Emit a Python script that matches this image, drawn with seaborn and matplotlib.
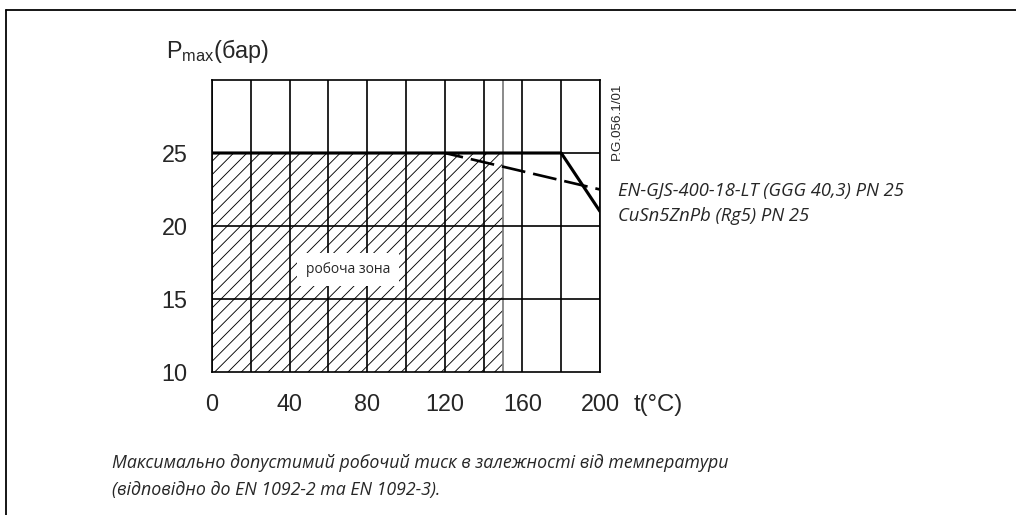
import matplotlib
matplotlib.use("Agg")
import matplotlib.pyplot as plt
import seaborn as sns
import pandas as pd
from matplotlib.lines import Line2D

# ---- data ----
temps_solid = [0, 180, 200]
press_solid = [25, 25, 21]
temps_dash = [120, 200]
press_dash = [25, 22.5]
zone_t = [0, 150]
zone_p_low = 10
zone_p_high = 25
x_ticks = [0, 40, 80, 120, 160, 200]
x_grid = list(range(0, 201, 20))
y_ticks = [10, 15, 20, 25]
y_grid = [15, 20, 25]
label_solid = "EN-GJS-400-18-LT (GGG 40,3) PN 25"
label_dash = "CuSn5ZnPb (Rg5) PN 25"
zone_label = "робоча зона"
caption1 = "Максимально допустимий робочий тиск в залежності від температури"
caption2 = "(відповідно до EN 1092-2 та EN 1092-3)."
code_label = "P.G.056.1/01"

sns.set_style("white")
plt.rcParams["font.family"] = ["Liberation Sans", "DejaVu Sans"]
plt.rcParams["mathtext.default"] = "regular"
plt.rcParams["hatch.linewidth"] = 0.8

W, H, DPI = 1016, 515, 80
fig = plt.figure(figsize=(W / DPI, H / DPI), dpi=DPI)
ax = fig.add_axes([212 / W, 1 - 372 / H, (600 - 212) / W, (372 - 80) / H])

ax.set_xlim(0, 200)
ax.set_ylim(10, 30)

# hatched working zone
ax.fill_between(zone_t, zone_p_low, zone_p_high, facecolor="none",
                edgecolor="black", hatch="//", linewidth=0, zorder=1)
ax.axvline(zone_t[1], color="#808080", lw=1.6, zorder=2)

# grid
for gx in x_grid:
    ax.axvline(gx, color="black", lw=1.5, zorder=2)
for gy in y_grid:
    ax.axhline(gy, color="black", lw=1.5, zorder=2)

df_s = pd.DataFrame({"t": temps_solid, "p": press_solid})
df_d = pd.DataFrame({"t": temps_dash, "p": press_dash})
sns.lineplot(data=df_s, x="t", y="p", ax=ax, color="black", lw=2.8, zorder=4)
sns.lineplot(data=df_d, x="t", y="p", ax=ax, color="black", lw=2.4,
             dashes=False, zorder=4)
ax.lines[-1].set_linestyle((2, (9, 3)))

for s in ax.spines.values():
    s.set_color("black")
    s.set_linewidth(1.5)
    s.set_visible(True)

ax.set_xticks(x_ticks)
ax.set_yticks(y_ticks)
ax.tick_params(axis="both", length=0, labelsize=21)
ax.tick_params(axis="x", pad=19)
ax.tick_params(axis="y", pad=22)
ax.set_xlabel("")
ax.set_ylabel("")

ax.text(70, 17.0, zone_label, ha="center", va="center", fontsize=12.5,
        family=["Open Sans", "DejaVu Sans"], zorder=5,
        bbox=dict(facecolor="white", edgecolor="none", pad=8))

# axis titles
fig.text(166 / W, 1 - 58 / H, "P$_{max}$(бар)", ha="left", va="baseline", fontsize=21)
fig.text(634 / W, 1 - 411 / H, "t(°C)", ha="left", va="baseline", fontsize=21.5)

# code label
fig.text(617 / W, 1 - 121 / H, code_label, rotation=90, ha="center", va="center",
         fontsize=12)

# series labels
ital = dict(style="italic", family=["Open Sans", "DejaVu Sans"])
fig.text(618 / W, 1 - 196 / H, label_solid, ha="left", va="baseline", fontsize=16.5, **ital)
fig.text(618 / W, 1 - 221 / H, label_dash, ha="left", va="baseline", fontsize=16.5, **ital)

# caption
fig.text(112 / W, 1 - 468 / H, caption1, ha="left", va="baseline", fontsize=16, **ital)
fig.text(112 / W, 1 - 495 / H, caption2, ha="left", va="baseline", fontsize=16, **ital)

# partial frame (top and left)
fig.add_artist(Line2D([6 / W, 6 / W], [0, 1 - 10 / H], transform=fig.transFigure,
                      color="black", lw=1.6))
fig.add_artist(Line2D([6 / W, 1], [1 - 10 / H, 1 - 10 / H], transform=fig.transFigure,
                      color="black", lw=1.6))

fig.savefig("out.png", dpi=DPI)
